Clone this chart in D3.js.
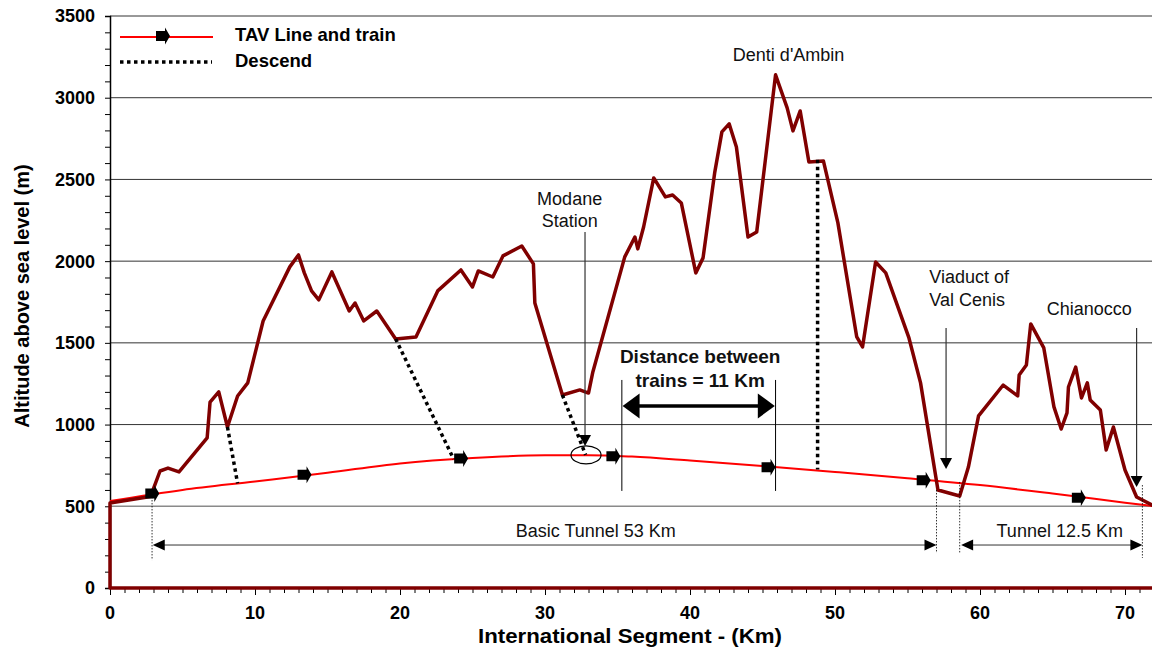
<!DOCTYPE html>
<html>
<head>
<meta charset="utf-8">
<script src="https://cdn.jsdelivr.net/npm/d3@7"></script>
<style>
  body { margin: 0; background: #fff; }
  text { font-family: Arial, "Liberation Sans", sans-serif; }
</style>
</head>
<body>
<svg id="chart" width="1152" height="647"></svg>
<script>
// ground profile along the line (km, altitude m)
const terrain = [[72,0],[0,0],[0,520],[2.8,560],[3.45,716],[4.0,734],[4.76,710],[6.7,918],[6.9,1138],[7.5,1200],[8.1,985],[8.8,1175],[9.5,1255],
  [10.56,1634],[12.4,1965],[13.0,2038],[13.4,1928],[13.9,1818],[14.4,1763],[15.3,1934],[16.5,1695],[16.9,1744],[17.5,1634],[18.4,1695],
  [19.7,1524],[21.1,1536],[22.6,1818],[24.2,1946],[25.0,1842],[25.4,1940],[26.4,1903],[27.1,2032],[28.4,2093],[29.2,1983],[29.3,1744],
  [31.2,1181],[32.4,1212],[33.0,1193],[33.3,1322],[35.5,2026],[36.2,2148],[36.4,2075],[36.8,2209],[37.5,2509],[38.3,2393],[38.8,2405],
  [39.4,2356],[40.4,1928],[40.9,2020],[41.7,2540],[42.2,2791],[42.7,2840],[43.2,2699],[44.0,2148],[44.6,2178],[45.9,3140],[46.7,2938],
  [47.1,2797],[47.6,2919],[48.2,2607],[49.2,2613],[50.2,2234],[51.5,1536],[51.9,1475],[52.8,1995],[53.5,1928],[55.1,1530],[55.9,1255],
  [57.1,600],[58.6,563],[59.2,740],[59.9,1053],[61.6,1242],[62.6,1175],[62.7,1303],[63.2,1365],[63.5,1616],[64.4,1469],[65.1,1108],
  [65.6,973],[66.0,1071],[66.1,1230],[66.6,1352],[67.0,1163],[67.4,1255],[67.6,1151],[68.3,1089],[68.7,845],[69.2,985],[70.0,722],
  [70.8,557],[72.0,502]];

// TAV line (km, altitude m)
const tavLine = [[0,532],[5,600],[10,652],[15,705],[20,762],[25,795],[30,812],[33,813],[36,804],[40,780],[45,746],[50,710],[55,672],
  [60,630],[65,578],[70,522],[72,500]];

// train positions (km, nose of train)
const trainKm = [3.4, 13.9, 24.7, 35.2, 45.9, 56.6, 67.3];

// descend paths: [km, alt] from -> to
const descends = [
  [[8.1,985],[8.8,640]],
  [[19.7,1524],[23.7,789]],
  [[31.2,1181],[32.8,814]],
  [[48.8,2620],[48.8,725]]
];

const yTicks = [0,500,1000,1500,2000,2500,3000,3500];
const xTicks = [0,10,20,30,40,50,60,70];

const svg = d3.select("#chart");
const x = d3.scaleLinear().domain([0,72]).range([110,1154]);
const y = d3.scaleLinear().domain([0,3500]).range([588,16]);

// gridlines
svg.append("g").selectAll("line").data(yTicks.filter(d => d > 0))
  .enter().append("line")
  .attr("x1", x(0)).attr("x2", x(72))
  .attr("y1", d => y(d)).attr("y2", d => y(d))
  .attr("stroke", d => d == 500 ? "#8a8a8a" : "#333")
  .attr("stroke-width", d => d == 500 ? 1.6 : 1);

// y axis
const yAxis = svg.append("g").attr("transform", `translate(${x(0)},0)`)
  .call(d3.axisLeft(y).tickValues(d3.range(0,3501,100)).tickSize(5).tickFormat(""));
yAxis.select(".domain").attr("stroke", "#000").attr("stroke-width", 1.5);
svg.append("g").selectAll("text").data(yTicks).enter().append("text")
  .attr("x", 95).attr("y", d => y(d)).attr("dy", "0.36em")
  .attr("text-anchor", "end").attr("font-size", 18).attr("font-weight", "bold")
  .text(d => d);

// x axis
const xAxis = svg.append("g").attr("transform", `translate(0,${y(0)})`)
  .call(d3.axisBottom(x).tickValues(d3.range(0,73,1)).tickSize(5).tickFormat(""));
xAxis.select(".domain").attr("stroke", "#000");
xAxis.selectAll(".tick line").attr("y2", d => d % 10 == 0 ? 7 : 5);
svg.append("g").selectAll("text").data(xTicks).enter().append("text")
  .attr("x", d => x(d)).attr("y", 619)
  .attr("text-anchor", "middle").attr("font-size", 18).attr("font-weight", "bold")
  .text(d => d);

svg.append("text").attr("x", 630).attr("y", 643).attr("text-anchor", "middle")
  .attr("font-size", 20).attr("font-weight", "bold")
  .attr("textLength", 304).attr("lengthAdjust", "spacingAndGlyphs")
  .text("International Segment - (Km)");
svg.append("text").attr("transform", "translate(29,296) rotate(-90)").attr("text-anchor", "middle")
  .attr("font-size", 20).attr("font-weight", "bold").text("Altitude above sea level (m)");

// TAV line
const line = d3.line().x(d => x(d[0])).y(d => y(d[1]));
const tavCurve = d3.line().x(d => x(d[0])).y(d => y(d[1])).curve(d3.curveMonotoneX);
svg.append("path").datum(tavLine).attr("d", tavCurve)
  .attr("fill", "none").attr("stroke", "#ff0000").attr("stroke-width", 2);

// terrain profile
svg.append("path").datum(terrain).attr("d", line)
  .attr("fill", "none").attr("stroke", "#800000").attr("stroke-width", 3.5)
  .attr("stroke-linejoin", "round");

// descend dotted lines
svg.append("g").selectAll("path").data(descends).enter().append("path")
  .attr("d", line).attr("fill", "none").attr("stroke", "#000")
  .attr("stroke-width", 3.5).attr("stroke-dasharray", "3.5,3.5");

// train markers
const tavAt = km => {
  const i = d3.bisector(d => d[0]).left(tavLine, km);
  const a = tavLine[Math.max(0, i-1)], b = tavLine[Math.min(tavLine.length-1, i)];
  if (a[0] == b[0]) return a[1];
  return a[1] + (b[1]-a[1]) * (km - a[0]) / (b[0]-a[0]);
};
const trainShape = "M-14,-5 L-5,-5 L-5,-8.5 L0,0 L-5,8.5 L-5,5 L-14,5 Z";
svg.append("g").selectAll("path").data(trainKm).enter().append("path")
  .attr("d", trainShape)
  .attr("transform", d => `translate(${x(d)},${y(tavAt(d))})`)
  .attr("fill", "#000");

// Modane station circle
svg.append("ellipse").attr("cx", x(32.83)).attr("cy", y(814)).attr("rx", 15).attr("ry", 9)
  .attr("fill", "none").attr("stroke", "#000").attr("stroke-width", 1.2);

// annotation arrows pointing down
const downArrow = (km, a1, a2) => {
  svg.append("line").attr("x1", x(km)).attr("x2", x(km)).attr("y1", y(a1)).attr("y2", y(a2) - 6)
    .attr("stroke", "#333").attr("stroke-width", 1.2);
  svg.append("path").attr("d", `M${x(km)-6},${y(a2)-11} L${x(km)+6},${y(a2)-11} L${x(km)},${y(a2)} Z`)
    .attr("fill", "#000");
};
downArrow(32.76, 2179, 869);
downArrow(57.66, 1591, 728);
downArrow(70.8, 1591, 618);

// thin dotted guides
const guides = [[2.9,557,171],[57.0,600,214],[58.6,649,214],[71.2,630,184]];
svg.append("g").selectAll("line").data(guides).enter().append("line")
  .attr("x1", d => x(d[0])).attr("x2", d => x(d[0]))
  .attr("y1", d => y(d[1])).attr("y2", d => y(d[2]))
  .attr("stroke", "#000").attr("stroke-width", 0.8).attr("stroke-dasharray", "1.5,1.5");

// dimension arrows
const dimArrow = (k1, k2, alt, w, hl, hw, col) => {
  const x1 = x(k1), x2 = x(k2), yy = y(alt);
  svg.append("line").attr("x1", x1 + hl - 1).attr("x2", x2 - hl + 1).attr("y1", yy).attr("y2", yy)
    .attr("stroke", col).attr("stroke-width", w);
  svg.append("path").attr("d", `M${x1},${yy} L${x1+hl},${yy-hw/2} L${x1+hl},${yy+hw/2} Z`).attr("fill", "#000");
  svg.append("path").attr("d", `M${x2},${yy} L${x2-hl},${yy-hw/2} L${x2-hl},${yy+hw/2} Z`).attr("fill", "#000");
};
dimArrow(2.95, 57.0, 263, 1, 12, 11, "#333");
dimArrow(58.7, 71.2, 263, 1, 12, 11, "#333");

// distance between trains
[35.3, 45.9].forEach(k => {
  svg.append("line").attr("x1", x(k)).attr("x2", x(k)).attr("y1", y(1273)).attr("y2", y(594))
    .attr("stroke", "#000").attr("stroke-width", 1);
});
dimArrow(35.35, 45.85, 1114, 3.5, 17, 25, "#000");

// texts
const label = (t, km, alt, anchor, size, weight) =>
  svg.append("text").attr("x", x(km)).attr("y", y(alt)).attr("text-anchor", anchor)
    .attr("font-size", size).attr("font-weight", weight).attr("fill", "#111").text(t);
label("Denti d'Ambin", 46.8, 3225, "middle", 18, "normal");
label("Modane", 31.7, 2344, "middle", 18, "normal");
label("Station", 31.7, 2209, "middle", 18, "normal");
label("Viaduct of", 56.5, 1866, "start", 18, "normal");
label("Val Cenis", 56.5, 1726, "start", 18, "normal");
label("Chianocco", 64.6, 1671, "start", 18, "normal");
label("Distance between", 40.7, 1377, "middle", 19, "bold");
label("trains = 11 Km", 40.7, 1230, "middle", 19, "bold");
label("Basic Tunnel 53 Km", 33.5, 312, "middle", 18, "normal");
label("Tunnel 12.5 Km", 65.5, 312, "middle", 18, "normal");

// legend
const legend = svg.append("g");
legend.append("line").attr("x1", 120).attr("x2", 213).attr("y1", 37).attr("y2", 37)
  .attr("stroke", "#ff0000").attr("stroke-width", 2);
legend.append("path").attr("d", trainShape).attr("transform", "translate(170,36)").attr("fill", "#000");
legend.append("text").attr("x", 235).attr("y", 41).attr("font-size", 18.5).attr("font-weight", "bold").text("TAV Line and train");
legend.append("line").attr("x1", 120).attr("x2", 212).attr("y1", 62).attr("y2", 62)
  .attr("stroke", "#000").attr("stroke-width", 3.5).attr("stroke-dasharray", "3.5,3.5");
legend.append("text").attr("x", 235).attr("y", 67).attr("font-size", 18.5).attr("font-weight", "bold").text("Descend");
</script>
</body>
</html>
